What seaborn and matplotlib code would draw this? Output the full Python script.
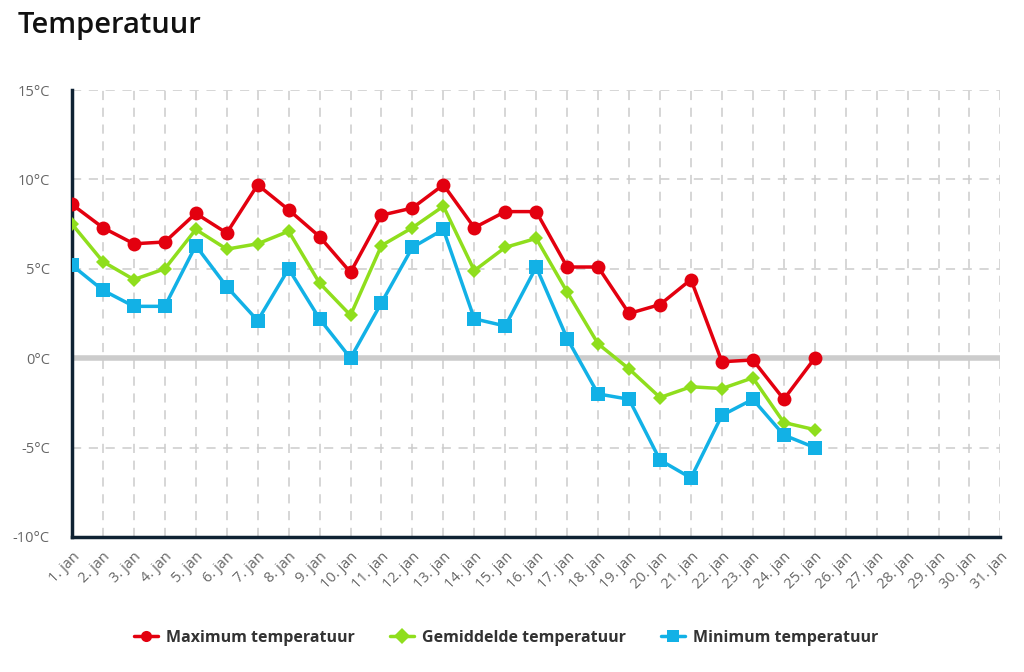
import numpy as np
import pandas as pd
import seaborn as sns
import matplotlib.pyplot as plt

days = list(range(1, 32))
day_labels = ["%d. jan" % d for d in days]

max_temp = [8.6, 7.3, 6.4, 6.5, 8.1, 7.0, 9.7, 8.3, 6.8, 4.8,
            8.0, 8.4, 9.7, 7.3, 8.2, 8.2, 5.1, 5.1, 2.5, 3.0,
            4.4, -0.2, -0.1, -2.3, 0.0]
avg_temp = [7.5, 5.4, 4.4, 5.0, 7.2, 6.1, 6.4, 7.1, 4.2, 2.4,
            6.3, 7.3, 8.5, 4.9, 6.2, 6.7, 3.7, 0.8, -0.6, -2.2,
            -1.6, -1.7, -1.1, -3.6, -4.0]
min_temp = [5.2, 3.8, 2.9, 2.9, 6.3, 4.0, 2.1, 5.0, 2.2, 0.0,
            3.1, 6.2, 7.2, 2.2, 1.8, 5.1, 1.1, -2.0, -2.3, -5.7,
            -6.7, -3.2, -2.3, -4.3, -5.0]

y_ticks = [-10, -5, 0, 5, 10, 15]

series = [
    ("Maximum temperatuur", max_temp, "#e3000f", "o", 10),
    ("Gemiddelde temperatuur", avg_temp, "#8fde1d", "D", 7),
    ("Minimum temperatuur", min_temp, "#12b1e6", "s", 10),
]

sns.set_style("white")
plt.rcParams['font.family'] = ['Open Sans', 'DejaVu Sans']

fig = plt.figure(figsize=(10.24, 6.72), dpi=100)
ax = fig.add_axes([0.0703, 0.201, 0.9067, 0.665])

for name, vals, col, mk, ms in series:
    df = pd.DataFrame({"dag": days[:len(vals)], "temp": vals})
    sns.lineplot(data=df, x="dag", y="temp", ax=ax, color=col, marker=mk,
                 markersize=ms, markeredgewidth=0, linewidth=2.5, label=name,
                 zorder=3)

ax.set_xlim(1, 31)
ax.set_ylim(-10, 15)
ax.set_xticks(days)
ax.set_xticklabels(day_labels, rotation=45, ha="right", rotation_mode="anchor",
                   fontsize=10.5, color="#666666")
ax.set_yticks(y_ticks)
ax.set_yticklabels(["%d°C" % t for t in y_ticks], fontsize=10.5, color="#666666")
ax.tick_params(axis="x", length=6, color="#ccd6e0", pad=3)
ax.tick_params(axis="y", length=0, pad=16)
ax.set_xlabel("")
ax.set_ylabel("")

ax.grid(True, linestyle=(0, (6, 5)), color="#cccccc", linewidth=1.1, zorder=0)
ax.axhline(0, color="#cccccc", linewidth=4, zorder=1)

for s in ["top", "right"]:
    ax.spines[s].set_visible(False)
for s in ["left", "bottom"]:
    ax.spines[s].set_color("#0f2233")
    ax.spines[s].set_linewidth(2.5)

fig.text(0.017, 0.962, "Temperatuur", fontsize=21, fontweight="semibold",
         color="#111111", va="center", ha="left")

leg = ax.legend(loc="upper center", bbox_to_anchor=(0.468, -0.175), ncol=3,
                frameon=False, fontsize=11.5, handlelength=1.5,
                columnspacing=2.2, handletextpad=0.5)
for t in leg.get_texts():
    t.set_fontweight("bold")
    t.set_color("#333333")
for h in leg.legend_handles:
    h.set_markersize(8)

fig.savefig("out.png", dpi=100)
